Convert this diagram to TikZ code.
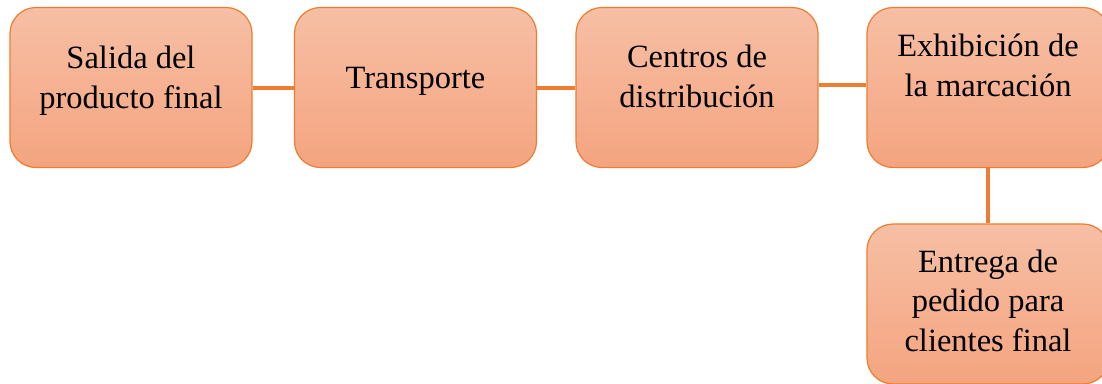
\documentclass[tikz,border=0pt]{standalone}
\usepackage{fontspec}
\setmainfont{Liberation Serif}
\definecolor{edgec}{HTML}{ED7D31}
\definecolor{topc}{HTML}{F7BFA5}
\definecolor{botc}{HTML}{F4A47F}
\begin{document}
\begin{tikzpicture}[x=1pt,y=-1pt,
  stage/.style={draw=edgec, line width=1.2pt, rounded corners=26pt, top color=topc, bottom color=botc, minimum width=242pt, minimum height=160pt, inner sep=0pt},
  lbl/.style={font=\fontsize{32.5}{39.5}\selectfont, align=center, anchor=base, inner sep=0pt},
  link/.style={draw=edgec, line width=4pt}]
\useasboundingbox (0,0) rectangle (1102,383);
\clip (0,0) rectangle (1102,383);
\node[stage] (b1) at (131,87.5) {};
\node[stage] (b2) at (415.5,87.5) {};
\node[stage] (b3) at (697,87.5) {};
\node[stage] (b4) at (988,87.5) {};
\node[stage] (b5) at (988,304) {};
\draw[link] (b1.east) -- (b2.west);
\draw[link] (b2.east) -- (b3.west);
\draw[link] ([yshift=3pt]b3.east) -- ([yshift=3pt]b4.west);
\draw[link] (b4.south) -- (b5.north);
\node[lbl] (t1) at (131,108) {Salida del\\producto final};
\node[lbl] (t2) at (415.5,88) {Transporte};
\node[lbl] (t3) at (697,107) {Centros de\\distribución};
\node[lbl] (t4) at (988,96) {Exhibición de\\la marcación};
\node[lbl] (t5) at (988,351) {Entrega de\\pedido para\\clientes final};
\end{tikzpicture}
\end{document}
